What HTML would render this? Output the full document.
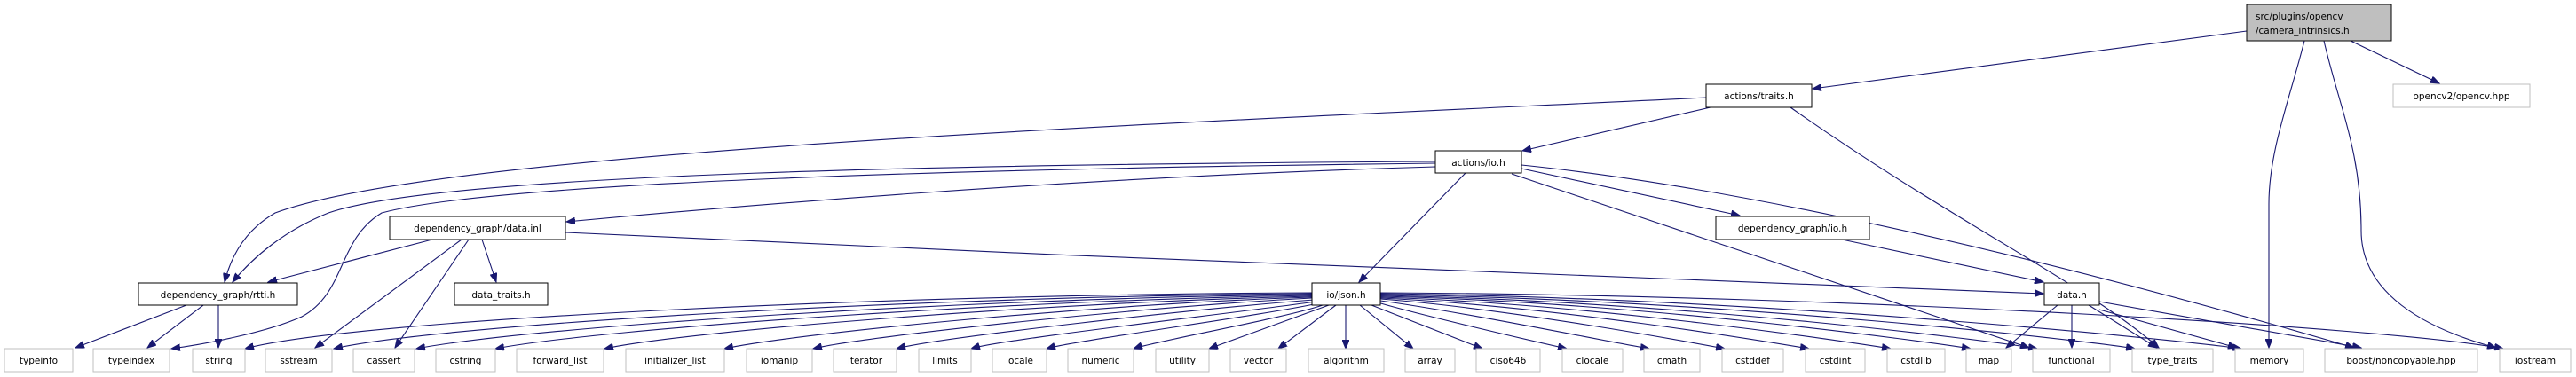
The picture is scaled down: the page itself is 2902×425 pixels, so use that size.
<!DOCTYPE html>
<html><head><meta charset="utf-8"><style>
html,body{margin:0;padding:0;background:#fff}
svg{display:block}
text{font-family:"DejaVu Sans","Liberation Sans",sans-serif;font-size:10.5px;fill:#000}
.e{fill:none;stroke:#191970;stroke-width:1.1;marker-end:url(#a)}
.n{fill:#fff;stroke:#000;stroke-width:1}
.g{fill:#fff;stroke:#bfbfbf;stroke-width:1}
</style></head><body>
<svg width="2902" height="425" viewBox="0 0 2902 425" xmlns="http://www.w3.org/2000/svg">
<defs><marker id="a" markerUnits="userSpaceOnUse" markerWidth="11" markerHeight="8" refX="10" refY="4" orient="auto"><path d="M0,0 L10,4 L0,8 z" fill="#191970" stroke="#191970"/></marker></defs>

<path class="e" d="M2531,35 L2042,100"/>
<path class="e" d="M2596,46 C2580,110 2556,170 2556,230 L2556,392"/>
<path class="e" d="M2618,46 C2635,120 2660,170 2660,260 C2660,330 2730,370 2812,392"/>
<path class="e" d="M2648,46 L2748,94"/>
<path class="e" d="M1923,110 C1300,140 500,170 310,240 C275,260 260,290 253,318"/>
<path class="e" d="M1927,121 L1715,170"/>
<path class="e" d="M2017,121 C2200,250 2350,320 2432,392"/>
<path class="e" d="M1617,182 C1100,185 500,195 370,240 C320,260 285,290 262,318"/>
<path class="e" d="M1617,184 C1100,190 560,205 430,240 C380,270 390,330 340,357 C300,375 230,388 193,393"/>
<path class="e" d="M1617,188 C1200,200 800,235 638,250"/>
<path class="e" d="M1651,195 L1531,318"/>
<path class="e" d="M1714,190 L1960,243"/>
<path class="e" d="M1703,196 L2286,392"/>
<path class="e" d="M1714,186 C1900,205 2200,260 2652,392"/>
<path class="e" d="M487,270 L302,318"/>
<path class="e" d="M520,270 L355,392"/>
<path class="e" d="M528,270 L445,392"/>
<path class="e" d="M543,270 L559,318"/>
<path class="e" d="M637,262 C1200,290 1900,315 2302,331"/>
<path class="e" d="M2075,270 L2302,318"/>
<path class="e" d="M210,344 L85,392"/>
<path class="e" d="M229,344 L166,392"/>
<path class="e" d="M246,344 L246,392"/>
<path class="e" d="M2318,344 L2260,392"/>
<path class="e" d="M2334,344 L2334,392"/>
<path class="e" d="M2353,344 L2430,392"/>
<path class="e" d="M2365,349 L2520,392"/>
<path class="e" d="M2365,340 L2660,392"/>
<path class="e" d="M1478,330 C1000,332 400,360 276,393"/>
<path class="e" d="M1478,331 C1050,334 500,365 376,393"/>
<path class="e" d="M1478,332 C1100,336 600,368 469,393"/>
<path class="e" d="M1478,333 C1150,338 680,370 558,393"/>
<path class="e" d="M1478,334 C1200,340 780,372 681,393"/>
<path class="e" d="M1478,335 C1250,342 900,375 816,393"/>
<path class="e" d="M1478,336 C1300,345 980,378 916,393"/>
<path class="e" d="M1480,338 C1350,348 1060,380 1010,393"/>
<path class="e" d="M1482,340 C1400,352 1130,382 1094,393"/>
<path class="e" d="M1485,342 C1420,356 1210,384 1179,393"/>
<path class="e" d="M1490,344 C1450,358 1300,385 1277,393"/>
<path class="e" d="M1497,344 L1362,393"/>
<path class="e" d="M1505,344 L1440,393"/>
<path class="e" d="M1516,344 L1516,393"/>
<path class="e" d="M1532,344 L1592,393"/>
<path class="e" d="M1545,344 L1670,393"/>
<path class="e" d="M1552,341 C1600,355 1720,383 1765,393"/>
<path class="e" d="M1555,339 C1650,352 1810,385 1858,393"/>
<path class="e" d="M1555,337 C1700,348 1900,385 1943,393"/>
<path class="e" d="M1555,336 C1750,345 1990,385 2038,393"/>
<path class="e" d="M1555,335 C1800,343 2080,385 2130,393"/>
<path class="e" d="M1555,334 C1850,341 2170,385 2220,393"/>
<path class="e" d="M1555,333 C1900,340 2250,385 2295,393"/>
<path class="e" d="M1555,332 C1950,338 2360,385 2405,393"/>
<path class="e" d="M1555,331 C2000,336 2470,385 2525,393"/>
<path class="e" d="M1555,330 C2100,333 2700,370 2820,393"/>

<rect x="2531" y="5" width="163" height="41" fill="#bfbfbf" stroke="#000"/>
<text x="2541" y="22">src/plugins/opencv</text>
<text x="2541" y="38">/camera_intrinsics.h</text>

<rect class="n" x="1922" y="95" width="119" height="26"/><text x="1981.5" y="112" text-anchor="middle">actions/traits.h</text>
<rect class="g" x="2696" y="95" width="154" height="26"/><text x="2773" y="112" text-anchor="middle">opencv2/opencv.hpp</text>
<rect class="n" x="1617" y="170" width="97" height="25"/><text x="1665.5" y="187" text-anchor="middle">actions/io.h</text>
<rect class="n" x="439" y="244" width="198" height="26"/><text x="538" y="261" text-anchor="middle">dependency_graph/data.inl</text>
<rect class="n" x="1933" y="244" width="173" height="26"/><text x="2019.5" y="261" text-anchor="middle">dependency_graph/io.h</text>
<rect class="n" x="156" y="319" width="179" height="25"/><text x="245.5" y="336" text-anchor="middle">dependency_graph/rtti.h</text>
<rect class="n" x="512" y="319" width="105" height="25"/><text x="564.5" y="336" text-anchor="middle">data_traits.h</text>
<rect class="n" x="1478" y="319" width="77" height="25"/><text x="1516.5" y="336" text-anchor="middle">io/json.h</text>
<rect class="n" x="2303" y="319" width="62" height="25"/><text x="2334" y="336" text-anchor="middle">data.h</text>

<g>
<rect class="g" x="5" y="393" width="77" height="26"/><text x="43.5" y="410" text-anchor="middle">typeinfo</text>
<rect class="g" x="105" y="393" width="86" height="26"/><text x="148" y="410" text-anchor="middle">typeindex</text>
<rect class="g" x="217" y="393" width="59" height="26"/><text x="246.5" y="410" text-anchor="middle">string</text>
<rect class="g" x="299" y="393" width="75" height="26"/><text x="336.5" y="410" text-anchor="middle">sstream</text>
<rect class="g" x="398" y="393" width="69" height="26"/><text x="432.5" y="410" text-anchor="middle">cassert</text>
<rect class="g" x="491" y="393" width="67" height="26"/><text x="524.5" y="410" text-anchor="middle">cstring</text>
<rect class="g" x="582" y="393" width="98" height="26"/><text x="631" y="410" text-anchor="middle">forward_list</text>
<rect class="g" x="705" y="393" width="111" height="26"/><text x="760.5" y="410" text-anchor="middle">initializer_list</text>
<rect class="g" x="841" y="393" width="74" height="26"/><text x="878" y="410" text-anchor="middle">iomanip</text>
<rect class="g" x="939" y="393" width="71" height="26"/><text x="974.5" y="410" text-anchor="middle">iterator</text>
<rect class="g" x="1035" y="393" width="59" height="26"/><text x="1064.5" y="410" text-anchor="middle">limits</text>
<rect class="g" x="1118" y="393" width="61" height="26"/><text x="1148.5" y="410" text-anchor="middle">locale</text>
<rect class="g" x="1203" y="393" width="74" height="26"/><text x="1240" y="410" text-anchor="middle">numeric</text>
<rect class="g" x="1302" y="393" width="60" height="26"/><text x="1332" y="410" text-anchor="middle">utility</text>
<rect class="g" x="1386" y="393" width="63" height="26"/><text x="1417.5" y="410" text-anchor="middle">vector</text>
<rect class="g" x="1474" y="393" width="85" height="26"/><text x="1516.5" y="410" text-anchor="middle">algorithm</text>
<rect class="g" x="1583" y="393" width="56" height="26"/><text x="1611" y="410" text-anchor="middle">array</text>
<rect class="g" x="1663" y="393" width="72" height="26"/><text x="1699" y="410" text-anchor="middle">ciso646</text>
<rect class="g" x="1760" y="393" width="68" height="26"/><text x="1794" y="410" text-anchor="middle">clocale</text>
<rect class="g" x="1852" y="393" width="63" height="26"/><text x="1883.5" y="410" text-anchor="middle">cmath</text>
<rect class="g" x="1940" y="393" width="69" height="26"/><text x="1974.5" y="410" text-anchor="middle">cstddef</text>
<rect class="g" x="2034" y="393" width="67" height="26"/><text x="2067.5" y="410" text-anchor="middle">cstdint</text>
<rect class="g" x="2126" y="393" width="65" height="26"/><text x="2158.5" y="410" text-anchor="middle">cstdlib</text>
<rect class="g" x="2215" y="393" width="51" height="26"/><text x="2240.5" y="410" text-anchor="middle">map</text>
<rect class="g" x="2290" y="393" width="87" height="26"/><text x="2333.5" y="410" text-anchor="middle">functional</text>
<rect class="g" x="2402" y="393" width="91" height="26"/><text x="2447.5" y="410" text-anchor="middle">type_traits</text>
<rect class="g" x="2518" y="393" width="77" height="26"/><text x="2556.5" y="410" text-anchor="middle">memory</text>
<rect class="g" x="2619" y="393" width="172" height="26"/><text x="2705" y="410" text-anchor="middle">boost/noncopyable.hpp</text>
<rect class="g" x="2816" y="393" width="80" height="26"/><text x="2856" y="410" text-anchor="middle">iostream</text>
</g>
</svg>
</body></html>
